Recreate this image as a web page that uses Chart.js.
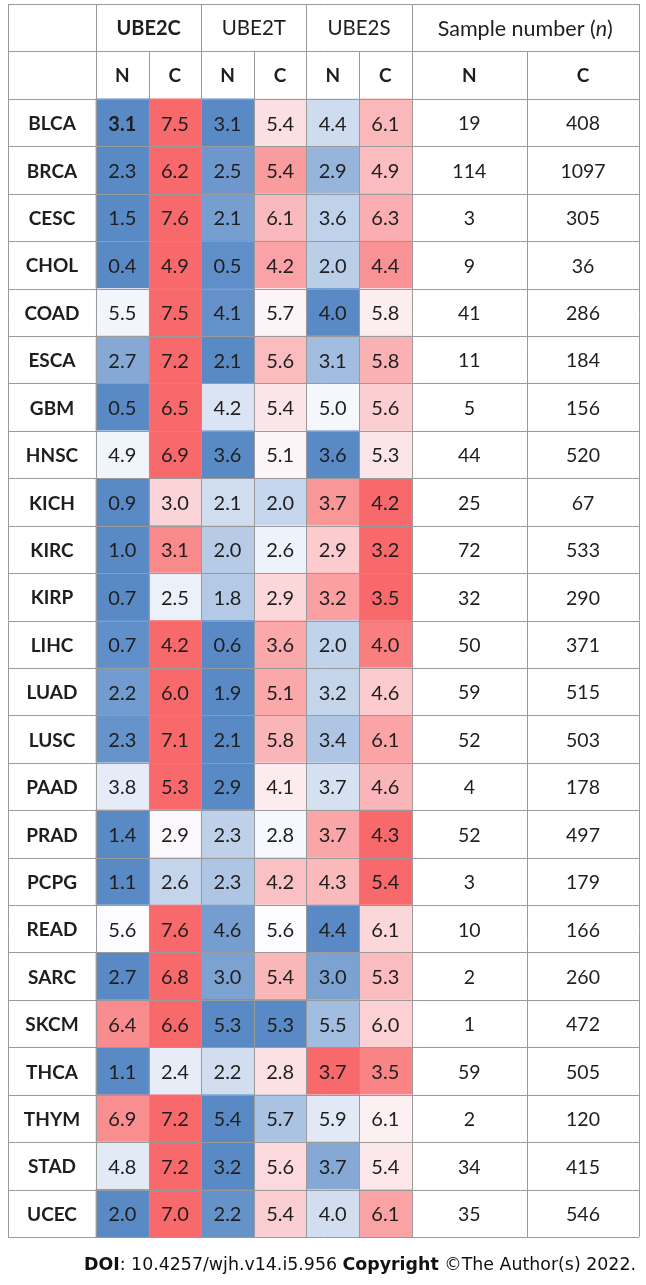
<!DOCTYPE html>
<html>
<head>
<meta charset="utf-8">
<script src="https://cdn.jsdelivr.net/npm/chart.js@4.4.0/dist/chart.umd.min.js"></script>
<style>
  html, body { margin: 0; padding: 0; background: #fff; }
  #wrap { position: relative; width: 646px; height: 1285px; }
</style>
</head>
<body>
<div id="wrap"><canvas id="heatTable"></canvas></div>
<script>
// cancer types (rows)
const cancers = ['BLCA', 'BRCA', 'CESC', 'CHOL', 'COAD', 'ESCA', 'GBM', 'HNSC', 'KICH', 'KIRC',
  'KIRP', 'LIHC', 'LUAD', 'LUSC', 'PAAD', 'PRAD', 'PCPG', 'READ', 'SARC', 'SKCM', 'THCA',
  'THYM', 'STAD', 'UCEC'];

// expression values, N = normal, C = cancer
const ube2cN = [3.1, 2.3, 1.5, 0.4, 5.5, 2.7, 0.5, 4.9, 0.9, 1.0, 0.7, 0.7, 2.2, 2.3, 3.8, 1.4, 1.1, 5.6, 2.7, 6.4, 1.1, 6.9, 4.8, 2.0];
const ube2cC = [7.5, 6.2, 7.6, 4.9, 7.5, 7.2, 6.5, 6.9, 3.0, 3.1, 2.5, 4.2, 6.0, 7.1, 5.3, 2.9, 2.6, 7.6, 6.8, 6.6, 2.4, 7.2, 7.2, 7.0];
const ube2tN = [3.1, 2.5, 2.1, 0.5, 4.1, 2.1, 4.2, 3.6, 2.1, 2.0, 1.8, 0.6, 1.9, 2.1, 2.9, 2.3, 2.3, 4.6, 3.0, 5.3, 2.2, 5.4, 3.2, 2.2];
const ube2tC = [5.4, 5.4, 6.1, 4.2, 5.7, 5.6, 5.4, 5.1, 2.0, 2.6, 2.9, 3.6, 5.1, 5.8, 4.1, 2.8, 4.2, 5.6, 5.4, 5.3, 2.8, 5.7, 5.6, 5.4];
const ube2sN = [4.4, 2.9, 3.6, 2.0, 4.0, 3.1, 5.0, 3.6, 3.7, 2.9, 3.2, 2.0, 3.2, 3.4, 3.7, 3.7, 4.3, 4.4, 3.0, 5.5, 3.7, 5.9, 3.7, 4.0];
const ube2sC = [6.1, 4.9, 6.3, 4.4, 5.8, 5.8, 5.6, 5.3, 4.2, 3.2, 3.5, 4.0, 4.6, 6.1, 4.6, 4.3, 5.4, 6.1, 5.3, 6.0, 3.5, 6.1, 5.4, 6.1];

// sample numbers
const sampleN = [19, 114, 3, 9, 41, 11, 5, 44, 25, 72, 32, 50, 59, 52, 4, 52, 3, 10, 2, 1, 59, 2, 34, 35];
const sampleC = [408, 1097, 305, 36, 286, 184, 156, 520, 67, 533, 290, 371, 515, 503, 178, 497, 179, 166, 260, 472, 505, 120, 415, 546];

// header labels
const genes = ['UBE2C', 'UBE2T', 'UBE2S'];
const subHeads = ['N', 'C'];

const heatSeries = [ube2cN, ube2cC, ube2tN, ube2tC, ube2sN, ube2sC];

// table layout (pixels): column boundaries
const colEdges = [8, 96, 148.6, 201.2, 253.8, 306.4, 359, 411.6, 527, 639];
const yLabels = ['head1', 'head2'].concat(cancers);

const FONT = 'Lato, "Open Sans", sans-serif';
const LINE = '#9a9a9a';
const INK = '#1e1e1e';

// 3 colour scale by row: min blue, median white, max red
const lowCol = [90, 138, 198], midCol = [252, 252, 255], highCol = [248, 105, 107];
function mix(a, b, t) {
  return 'rgb(' + a.map((v, i) => Math.round(v + (b[i] - v) * t)).join(',') + ')';
}
function cellColor(row, v) {
  const vals = heatSeries.map(s => s[row]).sort((a, b) => a - b);
  const lo = vals[0], hi = vals[vals.length - 1];
  const med = (vals[2] + vals[3]) / 2;
  if (v <= med) return mix(lowCol, midCol, med === lo ? 1 : (v - lo) / (med - lo));
  return mix(midCol, highCol, hi === med ? 0 : (v - med) / (hi - med));
}

const tablePlugin = {
  id: 'tablePlugin',
  afterDatasetsDraw(chart) {
    const ctx = chart.ctx;
    const xs = chart.scales.x, ys = chart.scales.y;
    const X = v => xs.getPixelForValue(v);
    const band = ys.getPixelForValue(1) - ys.getPixelForValue(0);
    const top = ys.getPixelForValue(0) - band / 2;
    const bottom = ys.getPixelForValue(yLabels.length - 1) + band / 2;
    const rowTop = i => ys.getPixelForValue(i) - band / 2;

    ctx.save();
    ctx.strokeStyle = LINE;
    ctx.lineWidth = 1;
    // horizontal lines
    for (let i = 0; i <= yLabels.length; i++) {
      const y = Math.round(i < yLabels.length ? rowTop(i) : bottom) + 0.5;
      ctx.beginPath(); ctx.moveTo(X(colEdges[0]), y); ctx.lineTo(X(colEdges[9]), y); ctx.stroke();
    }
    // vertical lines (some start below the merged header)
    colEdges.forEach((e, k) => {
      const full = [0, 1, 3, 5, 7, 9].includes(k);
      const x = Math.round(X(e)) + 0.5;
      ctx.beginPath(); ctx.moveTo(x, full ? top : rowTop(1)); ctx.lineTo(x, bottom); ctx.stroke();
    });

    ctx.fillStyle = INK;
    ctx.textAlign = 'center';
    ctx.textBaseline = 'middle';
    const mid = k => (X(colEdges[k]) + X(colEdges[k + 1])) / 2;

    // header row 1
    const y0 = ys.getPixelForValue(0) + 1;
    genes.forEach((g, j) => {
      ctx.font = (j === 0 ? 'bold 20px ' : '20.5px ') + FONT;
      ctx.fillText(g, (X(colEdges[1 + 2 * j]) + X(colEdges[3 + 2 * j])) / 2, y0);
    });
    // "Sample number (n)" with italic n
    const parts = [['Sample number (', ''], ['n', 'italic '], [')', '']];
    let w = 0;
    parts.forEach(p => { ctx.font = p[1] + '21.5px ' + FONT; w += ctx.measureText(p[0]).width; });
    let sx = (X(colEdges[7]) + X(colEdges[9])) / 2 - w / 2;
    ctx.textAlign = 'left';
    parts.forEach(p => {
      ctx.font = p[1] + '21.5px ' + FONT;
      ctx.fillText(p[0], sx, y0);
      sx += ctx.measureText(p[0]).width;
    });
    ctx.textAlign = 'center';

    // header row 2
    const y1 = ys.getPixelForValue(1) + 1;
    ctx.font = 'bold 19px ' + FONT;
    for (let k = 1; k < 9; k++) ctx.fillText(subHeads[(k - 1) % 2], mid(k), y1);

    // body
    cancers.forEach((c, i) => {
      const y = ys.getPixelForValue(i + 2) + 1.5;
      ctx.font = 'bold 19px ' + FONT;
      ctx.fillText(c, mid(0), y);
      heatSeries.forEach((s, k) => {
        ctx.font = (i === 0 && k === 0 ? 'bold ' : '') + '20px ' + FONT;
        ctx.fillText(s[i].toFixed(1), mid(k + 1), y);
      });
      ctx.font = '19.5px ' + FONT;
      ctx.fillText(String(sampleN[i]), mid(7), y);
      ctx.fillText(String(sampleC[i]), mid(8), y);
    });

    // footer
    const foot = [['DOI', 'bold '], [': 10.4257/wjh.v14.i5.956 ', ''], ['Copyright', 'bold '], [' \u00A9The Author(s) 2022.', '']];
    const fy = 1270;
    const ffont = '17.4px "DejaVu Sans", sans-serif';
    let fw = 0;
    foot.forEach(p => { ctx.font = p[1] + ffont; fw += ctx.measureText(p[0]).width; });
    let fx = 636 - fw;
    ctx.textAlign = 'left';
    ctx.textBaseline = 'alphabetic';
    ctx.fillStyle = '#111';
    foot.forEach(p => {
      ctx.font = p[1] + ffont;
      ctx.fillText(p[0], fx, fy);
      fx += ctx.measureText(p[0]).width;
    });
    ctx.restore();
  }
};

new Chart(document.getElementById('heatTable'), {
  type: 'bar',
  data: {
    labels: yLabels,
    datasets: heatSeries.map((vals, k) => ({
      data: vals.map((v, i) => ({ y: cancers[i], x: [colEdges[k + 1], colEdges[k + 2]] })),
      backgroundColor: vals.map((v, i) => cellColor(i, v)),
      borderWidth: 0,
      barPercentage: 1,
      categoryPercentage: 1,
      grouped: false
    }))
  },
  options: {
    indexAxis: 'y',
    responsive: true,
    maintainAspectRatio: false,
    animation: false,
    devicePixelRatio: 1,
    layout: { padding: { left: 8, right: 7, top: 4, bottom: 48 } },
    scales: {
      x: { type: 'linear', min: colEdges[0], max: colEdges[9], display: false },
      y: { type: 'category', labels: yLabels, offset: true, display: false }
    },
    plugins: { legend: { display: false }, tooltip: { enabled: false } }
  },
  plugins: [tablePlugin]
});
</script>
</body>
</html>
